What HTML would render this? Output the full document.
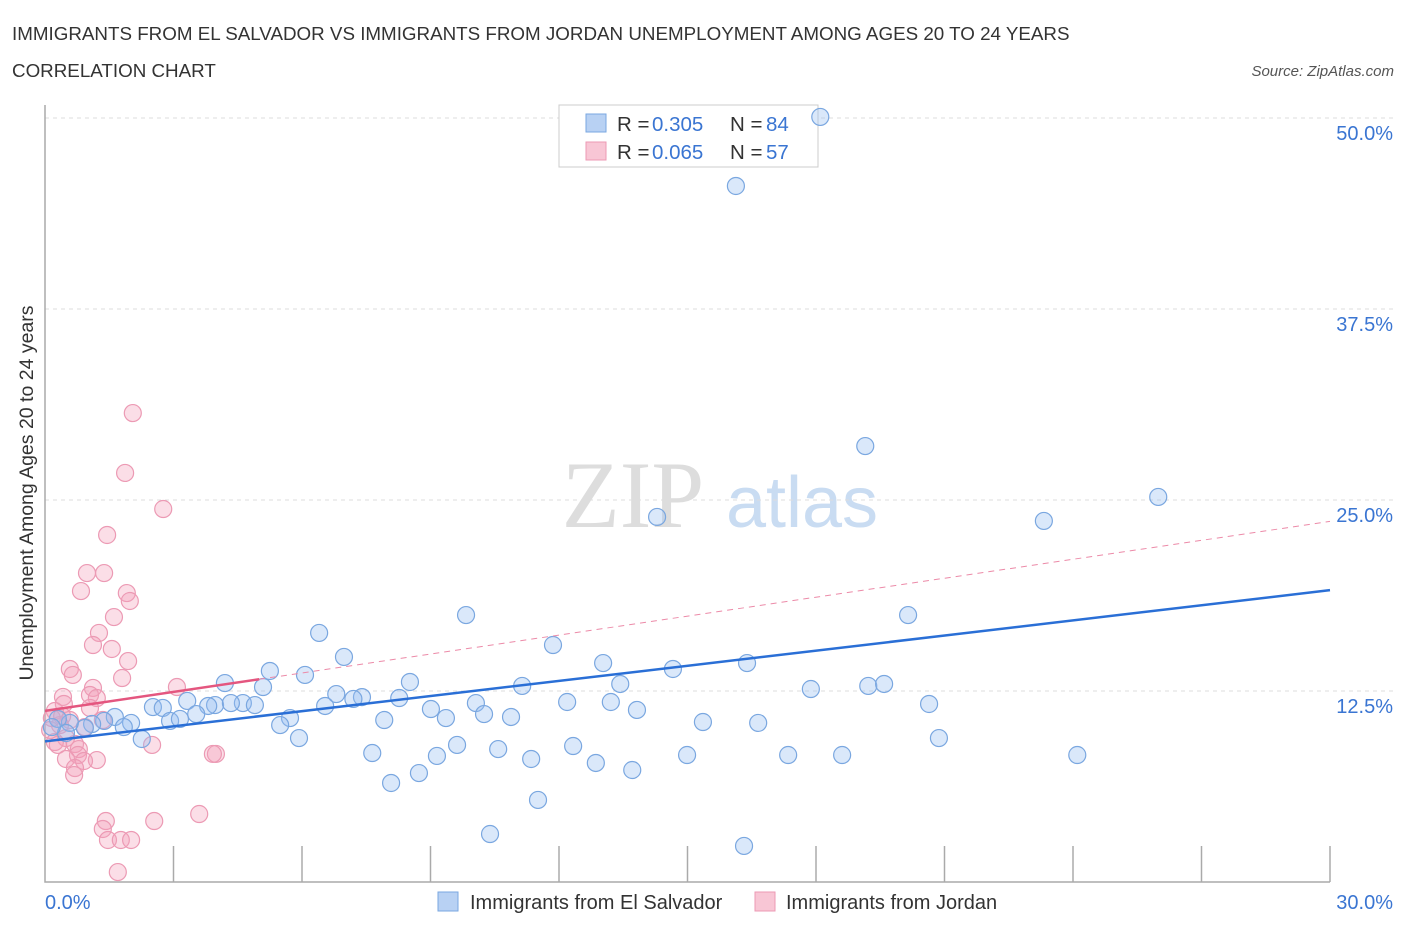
<!DOCTYPE html>
<html><head><meta charset="utf-8"><style>
body{margin:0;background:#fff;font-family:"Liberation Sans",sans-serif;}
svg{display:block}
</style></head><body>
<svg id="chart" width="1406" height="930">
<text x="12" y="40" font-size="18.8" fill="#333">IMMIGRANTS FROM EL SALVADOR VS IMMIGRANTS FROM JORDAN UNEMPLOYMENT AMONG AGES 20 TO 24 YEARS</text>
<text x="12" y="77" font-size="18.8" fill="#333">CORRELATION CHART</text>
<text x="1394" y="76" font-size="15" fill="#555" font-style="italic" text-anchor="end">Source: ZipAtlas.com</text>
<g>
<text x="633" y="527" font-size="95" fill="#ddd" font-family="Liberation Serif,serif" text-anchor="middle">ZIP</text>
<text x="802" y="527" font-size="72" fill="#c9dcf2" text-anchor="middle">atlas</text>
</g>
<g id="grid"></g>
<g id="axes"></g>
<g>
<rect x="559" y="105" width="259" height="62" fill="#fff" stroke="#ccc"/>
<rect x="586" y="114" width="20" height="18" fill="#b8d1f3" stroke="#7aa7e0"/>
<rect x="586" y="142" width="20" height="18" fill="#f8c6d5" stroke="#ec9ab4"/>
<text y="131" font-size="20.5" fill="#333"><tspan x="617">R = </tspan><tspan fill="#3a75d2" x="652">0.305</tspan><tspan x="730">N = </tspan><tspan fill="#3a75d2" x="766">84</tspan></text>
<text y="159" font-size="20.5" fill="#333"><tspan x="617">R = </tspan><tspan fill="#3a75d2" x="652">0.065</tspan><tspan x="730">N = </tspan><tspan fill="#3a75d2" x="766">57</tspan></text>
</g>
<g id="pts"></g>
<g id="lines"></g>
<text x="33" y="493" font-size="19.5" fill="#333" text-anchor="middle" transform="rotate(-90 33 493)">Unemployment Among Ages 20 to 24 years</text>
<g><rect x="438" y="892" width="20" height="19" fill="#b8d1f3" stroke="#7aa7e0"/><text x="470" y="909" font-size="20" fill="#333">Immigrants from El Salvador</text></g>
<g><rect x="755" y="892" width="20" height="19" fill="#f8c6d5" stroke="#ec9ab4"/><text x="786" y="909" font-size="20" fill="#333">Immigrants from Jordan</text></g>
</svg>
<script>
const yTicks=[12.5,25,37.5,50];
const yTickLabels=["12.5%","25.0%","37.5%","50.0%"];
const xTickLabels=["0.0%","30.0%"];
const blueX=[18.1,16.13,19.15,25.99,23.32,14.29,9.83,20.15,6.4,11.86,6.98,13.03,16.39,5.25,6.07,14.66,4.2,8.52,13.43,5.09,11.14,17.88,19.22,19.59,6.8,7.4,7.2,8.27,10.06,12.19,13.21,3.32,3.97,4.62,4.9,4.34,2.52,2.75,3.81,20.64,6.54,9.01,13.82,10.25,10.88,9.36,7.92,5.72,3.53,2.92,3.15,5.49,15.36,16.65,2.01,1.63,1.38,1.84,1.1,0.93,0.58,0.3,0.49,2.26,5.93,20.87,9.62,12.33,10.58,7.64,9.15,11.35,12.86,14.99,17.35,18.61,24.1,13.71,8.73,8.08,11.51,10.39,16.32,0.16];
const blueY=[50.07,45.55,28.53,25.2,23.63,23.89,17.47,17.47,16.3,15.51,14.73,14.33,14.33,13.81,13.55,13.94,13.02,13.09,12.96,12.76,12.83,12.63,12.83,12.96,12.3,12.1,11.98,12.04,11.71,11.78,11.78,11.85,11.58,11.71,11.58,11.71,11.45,11.39,11.52,11.65,11.52,11.32,11.26,10.99,10.8,10.73,10.6,10.73,10.99,10.54,10.67,10.27,10.47,10.41,10.41,10.8,10.54,10.14,10.34,10.08,10.41,10.67,9.75,9.36,9.42,9.42,8.97,8.9,8.7,8.44,8.25,8.05,7.79,8.31,8.31,8.31,8.31,7.33,7.13,6.48,5.37,3.14,2.36,10.14];
const pinkX=[2.05,1.87,2.76,1.45,0.98,1.38,0.84,1.91,1.98,1.61,1.26,1.12,1.56,1.94,0.58,0.65,1.8,3.08,1.12,0.42,1.05,1.21,0.44,1.05,0.23,0.58,1.35,0.93,0.35,0.12,0.49,0.23,0.3,0.7,2.5,0.79,0.77,3.99,3.92,0.49,1.21,0.91,0.7,0.68,3.6,2.55,1.42,1.35,1.47,1.77,2.01,1.7,0.16,0.4];
const pinkY=[30.69,26.77,24.41,22.71,20.22,20.22,19.04,18.91,18.39,17.34,16.3,15.51,15.25,14.46,13.94,13.55,13.35,12.76,12.7,12.11,12.24,12.04,11.65,11.39,11.19,10.6,10.6,10.14,10.27,9.95,9.42,9.16,8.97,9.03,8.97,8.7,8.31,8.38,8.38,8.05,7.98,7.92,7.46,7.0,4.45,3.99,3.99,3.47,2.75,2.75,2.75,0.65,10.73,10.86];
const blueTrend=[9.2,19.1];
const pinkTrend=[11.2,23.6];
const pinkSolidEnd=5.0;
const X=v=>45+v*(1285/30), Y=v=>882-v*15.28;
const NS="http://www.w3.org/2000/svg";
function mk(t,a,p){const e=document.createElementNS(NS,t);for(const k in a)e.setAttribute(k,a[k]);p.appendChild(e);return e;}
const grid=document.getElementById('grid'),axes=document.getElementById('axes'),pts=document.getElementById('pts'),lines=document.getElementById('lines');
yTicks.forEach((t,i)=>{
 const g=mk('line',{x1:45,x2:1395,y1:Y(t),y2:Y(t),stroke:'#ddd','stroke-dasharray':'4,4'},grid);
 
 
 const l=mk('text',{x:1393,y:Y(t)+22,'font-size':20,fill:'#3a75d2','text-anchor':'end'},axes);
 l.textContent=yTickLabels[i];
 
 
});
const ax=mk('path',{d:'M45 105V882H1330',stroke:'#aaa','stroke-width':1.5,fill:'none'},axes);


for(let i=1;i<=10;i++){const t=mk('line',{x1:X(i*3),x2:X(i*3),y1:846,y2:882,stroke:'#aaa','stroke-width':1.5},axes);
 
 }
[[0,'start',45],[30,'end',1393]].forEach((d,i)=>{const l=mk('text',{x:d[2],y:909,'font-size':20,fill:'#3a75d2','text-anchor':d[1]},axes);l.textContent=xTickLabels[i];
 
 });
pinkX.forEach((x,i)=>{const c=mk('circle',{cx:X(x),cy:Y(pinkY[i]),r:8.5,fill:'rgba(244,160,187,0.35)',stroke:'#ec9ab4','stroke-width':1.2},pts);
 
 });
blueX.forEach((x,i)=>{const c=mk('circle',{cx:X(x),cy:Y(blueY[i]),r:8.5,fill:'rgba(150,190,240,0.35)',stroke:'#7aa7e0','stroke-width':1.2},pts);
 
 });
const pAt=v=>pinkTrend[0]+(pinkTrend[1]-pinkTrend[0])*v/30;
const pd=mk('line',{x1:X(pinkSolidEnd),y1:Y(pAt(pinkSolidEnd)),x2:X(30),y2:Y(pinkTrend[1]),stroke:'#ec8aa8','stroke-width':1,'stroke-dasharray':'6,5'},lines);


const ps=mk('line',{x1:X(0),y1:Y(pinkTrend[0]),x2:X(pinkSolidEnd),y2:Y(pAt(pinkSolidEnd)),stroke:'#e4567f','stroke-width':2.5},lines);


const bl=mk('line',{x1:X(0),y1:Y(blueTrend[0]),x2:X(30),y2:Y(blueTrend[1]),stroke:'#2a6fd6','stroke-width':2.5},lines);


</script>
</body></html>
